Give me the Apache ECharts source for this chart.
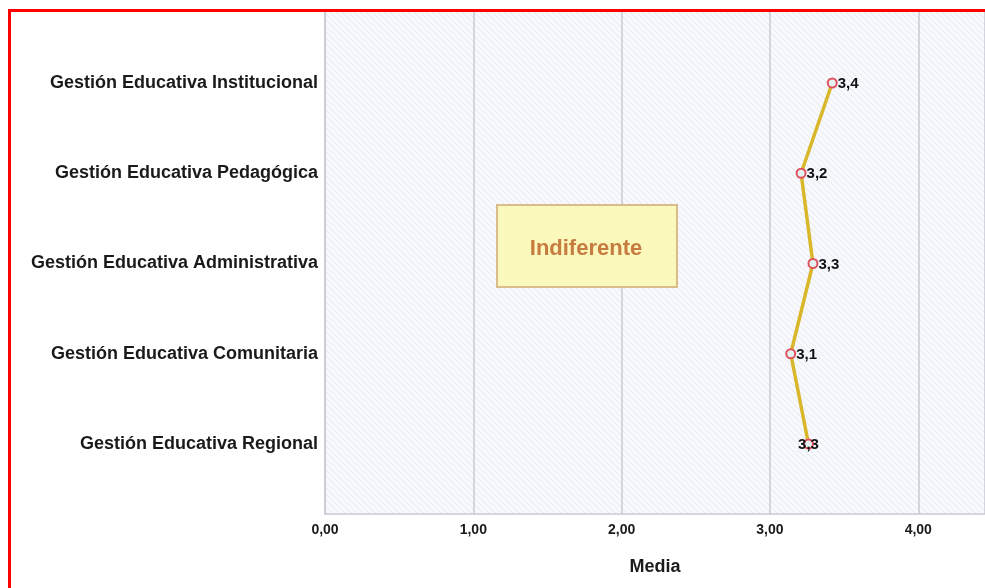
<!DOCTYPE html>
<html>
<head>
<meta charset="utf-8">
<script src="https://cdn.jsdelivr.net/npm/echarts@6/dist/echarts.min.js"></script>
<style>
  html, body { margin: 0; padding: 0; background: #fff; overflow: hidden; }
  #chart { width: 985px; height: 588px; }
</style>
</head>
<body>
<div id="chart"></div>
<script>
const categories = [
  "Gestión Educativa Institucional",
  "Gestión Educativa Pedagógica",
  "Gestión Educativa Administrativa",
  "Gestión Educativa Comunitaria",
  "Gestión Educativa Regional",
];
const means = [3.42, 3.21, 3.29, 3.14, 3.26];
const xMin = 0;
const xMax = 4.45;
const xInterval = 1;
const axisName = "Media";
const noteText = "Indiferente";

// hatched plot background
const makeHatch = () => {
  const c = document.createElement("canvas");
  c.width = 6;
  c.height = 6;
  const ctx = c.getContext("2d");
  ctx.fillStyle = "#f8f9fc";
  ctx.fillRect(0, 0, 6, 6);
  ctx.strokeStyle = "#e6e8f0";
  ctx.lineWidth = 1;
  ctx.beginPath();
  ctx.moveTo(-1, -1);
  ctx.lineTo(7, 7);
  ctx.moveTo(-4, 2);
  ctx.lineTo(1, 7);
  ctx.moveTo(2, -4);
  ctx.lineTo(7, 1);
  ctx.stroke();
  return c;
};

const fmtComma = (v, d) => v.toFixed(d).replace(".", ",");
const gridLine = "#c9cad3";

const chart = echarts.init(document.getElementById("chart"));

const options = {
  animation: false,
  grid: [
    {
      left: 325,
      right: 0,
      top: 12,
      bottom: 74,
      show: true,
      borderWidth: 0,
      backgroundColor: { image: makeHatch(), repeat: "repeat" },
    },
    {
      left: 325,
      right: 0,
      top: 83,
      bottom: 144,
    },
  ],
  xAxis: [
    {
      gridIndex: 0,
      type: "value",
      min: xMin,
      max: xMax,
      interval: xInterval,
      axisLine: { show: true, lineStyle: { color: gridLine, width: 1.5 } },
      axisTick: { show: false },
      splitLine: { show: true, lineStyle: { color: gridLine, width: 1.5 } },
      axisLabel: {
        margin: 9,
        showMaxLabel: false,
        fontFamily: "'Liberation Sans', Arial",
        fontWeight: "bold",
        fontSize: 14,
        color: "#1a1a1a",
        formatter: (v) => (Number.isInteger(v) ? fmtComma(v, 2) : ""),
      },
      name: axisName,
      nameLocation: "middle",
      nameGap: 44,
      nameTextStyle: {
        fontFamily: "'Liberation Sans Narrow', 'Liberation Sans', Arial",
        fontWeight: "bold",
        fontSize: 18,
        color: "#1a1a1a",
      },
    },
    {
      gridIndex: 1,
      type: "value",
      min: xMin,
      max: xMax,
      show: false,
    },
  ],
  yAxis: [
    {
      gridIndex: 0,
      type: "value",
      min: 0,
      max: 1,
      axisLine: { show: true, lineStyle: { color: gridLine, width: 1.5 } },
      axisTick: { show: false },
      axisLabel: { show: false },
      splitLine: { show: false },
    },
    {
      gridIndex: 1,
      type: "category",
      data: categories,
      inverse: true,
      boundaryGap: false,
      axisLine: { show: false },
      axisTick: { show: false },
      splitLine: { show: false },
      axisLabel: {
        margin: 7,
        fontFamily: "'Liberation Sans', Arial",
        fontWeight: "bold",
        fontSize: 18,
        color: "#1a1a1a",
      },
    },
  ],
  series: [
    {
      type: "line",
      xAxisIndex: 1,
      yAxisIndex: 1,
      data: means.map((v, i) =>
        i === means.length - 1 ? { value: v, label: { position: "inside" } } : v
      ),
      lineStyle: { color: "#d8b82a", width: 3.5 },
      symbol: "circle",
      symbolSize: 9,
      itemStyle: { color: "#e4f1f1", borderColor: "#e0505f", borderWidth: 2 },
      label: {
        show: true,
        position: "right",
        distance: 0,
        fontFamily: "'Liberation Sans', Arial",
        fontWeight: "bold",
        fontSize: 15,
        color: "#111",
        offset: [0, 1],
        formatter: (p) => fmtComma(p.value, 1),
      },
      z: 3,
    },
  ],
  graphic: [
    {
      type: "rect",
      left: 496,
      top: 204,
      shape: { width: 180, height: 82 },
      style: { fill: "#fbf8bb", stroke: "#d9bb8c", lineWidth: 2 },
      z: 10,
    },
    {
      type: "text",
      x: 586,
      y: 249,
      style: {
        text: noteText,
        fill: "#c67b40",
        font: "bold 22px 'Liberation Sans', Arial",
        align: "center",
        verticalAlign: "middle",
      },
      z: 11,
    },
    {
      type: "rect",
      shape: { x: 9.5, y: 10.5, width: 1200, height: 800 },
      style: { fill: "none", stroke: "#ff0000", lineWidth: 3 },
      z: 20,
    },
  ],
};

chart.setOption(options);
</script>
</body>
</html>
